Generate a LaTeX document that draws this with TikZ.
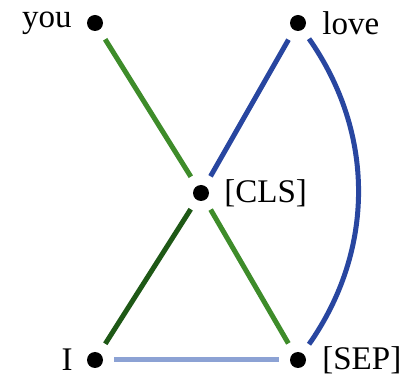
\documentclass[tikz,border=0pt]{standalone}
\usepackage{fontspec}
\setmainfont{Liberation Serif}
\definecolor{cgreen}{RGB}{62,140,42}
\definecolor{cdgreen}{RGB}{30,88,22}
\definecolor{cblue}{RGB}{40,70,160}
\definecolor{clblue}{RGB}{140,162,212}
\begin{document}
\begin{tikzpicture}[x=1pt,y=1pt,
  dot/.style={circle,fill=black,minimum size=16pt,inner sep=0pt},
  lbl/.style={inner sep=0pt,font=\fontsize{33}{36}\selectfont},
  edge/.style={line width=5pt,shorten >=11pt,shorten <=11pt}]
\useasboundingbox (0,0) rectangle (402,375);
\node[dot,label={[lbl,label distance=15pt]left:you}] (you) at (95,352) {};
\node[dot,label={[lbl,label distance=16pt]right:love}] (love) at (298,352) {};
\node[dot,label={[lbl,label distance=15pt]right:[CLS]}] (cls) at (201,182) {};
\node[dot,label={[lbl,label distance=14pt]left:I}] (i) at (95,15) {};
\node[dot,label={[lbl,label distance=16pt]right:[SEP]}] (sep) at (298,15) {};
\draw[edge,cgreen] (you) -- (cls);
\draw[edge,cgreen] (cls) -- (sep);
\draw[edge,cdgreen] (i) -- (cls);
\draw[edge,cblue] (cls) -- (love);
\draw[edge,clblue] (i) -- (sep);
\draw[edge,cblue] (love) to[bend left=35] (sep);
\end{tikzpicture}
\end{document}
